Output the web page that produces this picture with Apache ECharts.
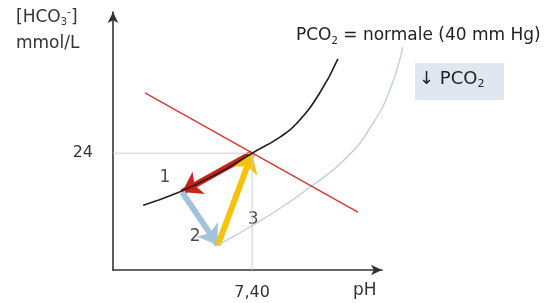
<!doctype html>
<html>
<head>
<meta charset="UTF-8">
<title></title>
<script src="https://cdn.jsdelivr.net/npm/echarts@6/dist/echarts.min.js"></script>
<style>
  html, body { margin: 0; padding: 0; background: #fff; }
  #chart { width: 555px; height: 303px; }
</style>
</head>
<body>
<div id="chart"></div>
<script>
// courbe PCO2 normale (pH, HCO3)
var normalCurve = [[7.165, 13.3], [7.238, 15.8], [7.320, 19.5], [7.40, 24], [7.460, 27.3], [7.497, 30.2], [7.546, 36.4], [7.585, 43.4]];
// courbe PCO2 basse
var lowCurve = [[7.326, 5.1], [7.438, 11.3], [7.525, 17.0], [7.605, 23.2], [7.661, 30.2], [7.697, 37.0], [7.725, 45.8]];
// droite tampon
var bufferLine = [[7.169, 36.4], [7.628, 11.9]];
// étapes 1, 2, 3
var stepStart = [[7.40, 24], [7.249, 16.0], [7.326, 5.1]];
var stepEnd = [[7.249, 16.0], [7.326, 5.1], [7.40, 24]];
var stepColors = ['#c9221b', '#a3c3dd', '#f5c40a'];
var stepLabels = ['1', '2', '3'];
var stepLabelPos = [[7.212, 18.9], [7.277, 6.8], [7.402, 10.3]];
var refX = [7.40];
var refY = [24];

var myChart = echarts.init(document.getElementById('chart'));

var arrows = [];
for (var i = 0; i < stepStart.length; i++) {
  arrows.push({
    coords: [stepStart[i], stepEnd[i]],
    lineStyle: { color: stepColors[i] }
  });
}

var txt = '#333';
var ff = 'DejaVu Sans';
var option = {
  backgroundColor: '#fff',
  animation: false,
  textStyle: { fontFamily: ff },
  grid: [
    { left: 113, top: 12, width: 269, height: 258 },
    // même échelle, plus large, pour la courbe qui dépasse l'axe
    { left: 113, top: 12, width: 324.66, height: 258 }
  ],
  xAxis: [{
    type: 'value', min: 7.10, max: 7.68,
    axisLine: { lineStyle: { color: '#333', width: 1.6 }, symbol: ['none', 'arrow'], symbolSize: [8, 11] },
    axisTick: { show: false },
    splitLine: { show: false },
    axisLabel: { customValues: refX, formatter: function (v) { return v.toFixed(2).replace('.', ','); }, color: txt, fontFamily: ff, fontSize: 16, margin: 15 }
  }, {
    type: 'value', min: 7.10, max: 7.80, gridIndex: 1, show: false
  }],
  yAxis: [{
    type: 'value', min: 0, max: 53,
    axisLine: { show: true, lineStyle: { color: '#333', width: 1.6 }, symbol: ['none', 'arrow'], symbolSize: [8, 11] },
    axisTick: { show: false },
    splitLine: { show: false },
    axisLabel: { customValues: refY, color: txt, fontFamily: ff, fontSize: 16, margin: 20 }
  }, {
    type: 'value', min: 0, max: 53, gridIndex: 1, show: false
  }],
  graphic: [
    { type: 'text', left: 16, top: 7, style: { text: '{a|[HCO}{s|3}{p|-}{a|]}', rich: { a: { fontSize: 17, fontFamily: ff, fill: txt }, s: { fontSize: 10, fontFamily: ff, fill: txt, padding: [10, 0, 0, 0] }, p: { fontSize: 11, fontFamily: ff, fill: txt, padding: [0, 0, 10, 0] } } } },
    { type: 'text', left: 16, top: 35, style: { text: 'mmol/L', fontSize: 17, fontFamily: ff, fill: txt } },
    { type: 'text', left: 353, top: 282, style: { text: 'pH', fontSize: 17, fontFamily: ff, fill: txt } },
    { type: 'text', left: 296, top: 27, style: { text: '{a|PCO}{s|2}{a| = normale (40 mm Hg)}', rich: { a: { fontSize: 17, fontFamily: ff, fill: '#222' }, s: { fontSize: 10, fontFamily: ff, fill: '#222', padding: [11, 0, 0, 0] } } } },
    { type: 'rect', shape: { x: 415, y: 63, width: 89, height: 37 }, style: { fill: '#dfe8f1' } },
    { type: 'text', left: 419, top: 70, style: { text: '{a|\u2193 PCO}{s|2}', rich: { a: { fontSize: 18, fontFamily: ff, fill: '#222' }, s: { fontSize: 11, fontFamily: ff, fill: '#222', padding: [11, 0, 0, 0] } } } }
  ],
  series: [
    {
      type: 'line', data: [[refX[0], refY[0]], [refX[0], 0]], symbol: 'none', silent: true,
      lineStyle: { color: '#cfcfcf', width: 1 }
    },
    {
      type: 'line', data: [[7.10, refY[0]], [refX[0], refY[0]]], symbol: 'none', silent: true,
      lineStyle: { color: '#cfcfcf', width: 1 }
    },
    {
      type: 'line', data: lowCurve, smooth: true, symbol: 'none', xAxisIndex: 1, yAxisIndex: 1,
      lineStyle: { color: '#bfd0dc', width: 1.4 }
    },
    {
      type: 'line', data: bufferLine, symbol: 'none',
      lineStyle: { color: '#d23a33', width: 1.4 }
    },
    {
      type: 'line', data: normalCurve, smooth: true, symbol: 'none',
      lineStyle: { color: '#222', width: 1.7 }
    },
    {
      type: 'lines', coordinateSystem: 'cartesian2d', data: arrows,
      symbol: ['none', 'arrow'], symbolSize: [21, 19],
      lineStyle: { width: 6, opacity: 1 }
    },
    {
      type: 'scatter', data: stepLabelPos, symbolSize: 0,
      label: {
        show: true, position: 'inside', fontSize: 17, fontFamily: ff, color: '#222',
        formatter: function (p) { return stepLabels[p.dataIndex]; }
      }
    }
  ]
};
myChart.setOption(option);
</script>
</body>
</html>
